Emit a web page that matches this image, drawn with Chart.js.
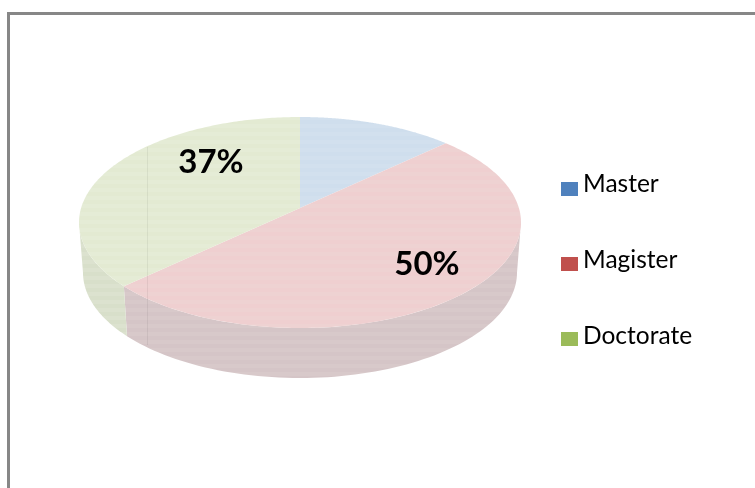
<!DOCTYPE html>
<html><head><meta charset="utf-8">
<style>
html,body{margin:0;padding:0;background:#fff;overflow:hidden}
#frame{position:absolute;left:7px;top:12px;width:748px;height:476px;border-left:3px solid #878787;border-top:3px solid #878787;box-sizing:border-box}
#wrap{position:absolute;left:0;top:0;width:755px;height:488px}
</style>
<script src="https://cdn.jsdelivr.net/npm/chart.js@4"></script>
</head><body>
<div id="frame"></div>
<div id="wrap"><canvas id="c" width="755" height="488"></canvas></div>
<script>
const categories = ['Master', 'Magister', 'Doctorate'];
const shareValues = [13, 50, 37];
const legendColors = ['#4f81bd', '#c0504d', '#9bbb59'];
const topColors = [['#cfdeed','#d2e0ee'], ['#efcfd0','#eed2d2'], ['#e3ead2','#e5ecd6']];
const wallColors = [['#c6d2de','#cad5e0'], ['#d5c5c7','#d8c9ca'], ['#d8dfca','#dce2cf']];
const labelShown = [false, true, true];

function stripes(ctx, pair){
  const p = document.createElement('canvas');
  p.width = 1; p.height = 8;
  const g = p.getContext('2d');
  g.fillStyle = pair[0]; g.fillRect(0,0,1,4);
  g.fillStyle = pair[1]; g.fillRect(0,4,1,4);
  return ctx.createPattern(p,'repeat');
}

const pie3d = {
  id: 'pie3d',
  beforeDatasetsDraw(chart, args, o){
    const ctx = chart.ctx;
    const arcs = chart.getDatasetMeta(0).data;
    const cx = arcs[0].x;
    const apexY = arcs[0].y + o.apexShift;
    const proj = (t) => {
      const X = Math.sin(t), Y = -Math.cos(t), d = 1 - o.k*Y;
      return [cx + o.a*X/d, apexY + o.b*Y/d];
    };
    const rim = (t) => {
      const [x,y] = proj(t);
      return [cx + (x-cx)*o.wallScale, y + o.depth];
    };
    const norm = t => t + Math.PI/2;
    const tangent = Math.asin(o.k);
    const wallFrom = Math.PI/2 + tangent, wallTo = Math.PI*1.5 - tangent;
    ctx.save();
    // side wall, front part only
    arcs.forEach((el,i)=>{
      const s = Math.max(norm(el.startAngle), wallFrom);
      const e = Math.min(norm(el.endAngle), wallTo);
      if (e <= s) return;
      ctx.beginPath();
      const n = 80;
      for(let j=0;j<=n;j++){ const p = proj(s+(e-s)*j/n); j?ctx.lineTo(p[0],p[1]):ctx.moveTo(p[0],p[1]); }
      for(let j=n;j>=0;j--){ const p = rim(s+(e-s)*j/n); ctx.lineTo(p[0],p[1]); }
      ctx.closePath();
      ctx.fillStyle = stripes(ctx, wallColors[i]);
      ctx.fill();
    });
    // top face
    arcs.forEach((el,i)=>{
      const s = norm(el.startAngle), e = norm(el.endAngle);
      ctx.beginPath();
      ctx.moveTo(cx, apexY);
      const n = 160;
      for(let j=0;j<=n;j++){ const p = proj(s+(e-s)*j/n); ctx.lineTo(p[0],p[1]); }
      ctx.closePath();
      ctx.fillStyle = stripes(ctx, topColors[i]);
      ctx.fill();
    });
    // faint vertical line seen over the pie
    ctx.strokeStyle = 'rgba(0,0,0,0.06)';
    ctx.lineWidth = 1;
    ctx.beginPath(); ctx.moveTo(147.5,147); ctx.lineTo(147.5,345); ctx.stroke();
    // value labels
    ctx.fillStyle = '#000';
    ctx.font = 'bold 33px Lato, "Open Sans", sans-serif';
    ctx.textAlign = 'center'; ctx.textBaseline = 'alphabetic';
    const total = shareValues.reduce((a,b)=>a+b,0);
    arcs.forEach((el,i)=>{
      if(!labelShown[i]) return;
      const a = o.labelAt[i];
      ctx.fillText(Math.round(shareValues[i]/total*100)+'%', a[0], a[1]);
    });
    // legend
    ctx.textAlign = 'left'; ctx.textBaseline = 'alphabetic';
    ctx.font = '24.5px Lato, "Open Sans", sans-serif';
    categories.forEach((name,i)=>{
      const y = o.legendTop + i*o.legendStep;
      ctx.fillStyle = legendColors[i];
      ctx.fillRect(o.legendLeft, y, 17, 14);
      ctx.fillStyle = '#000';
      ctx.fillText(name, o.legendLeft+22, o.legendBase + i*o.legendTextStep);
    });
    ctx.restore();
    return false;
  }
};

new Chart(document.getElementById('c'), {
  type: 'pie',
  data: { labels: categories, datasets: [{ data: shareValues, backgroundColor: legendColors, borderWidth: 0 }] },
  plugins: [pie3d],
  options: {
    responsive: false,
    animation: false,
    layout: { padding: { left: 79, right: 234, top: 2, bottom: 44 } },
    plugins: {
      tooltip: { enabled: false },
      legend: { display: false },
      pie3d: { apexShift: -15, a: 218.9, b: 103.5, k: 0.1374, depth: 50, wallScale: 0.982,
               labelAt: [null, [427,275], [211,173]],
               legendLeft: 561, legendTop: 182, legendStep: 75,
               legendBase: 192, legendTextStep: 76 }
    }
  }
});
</script>
</body></html>
